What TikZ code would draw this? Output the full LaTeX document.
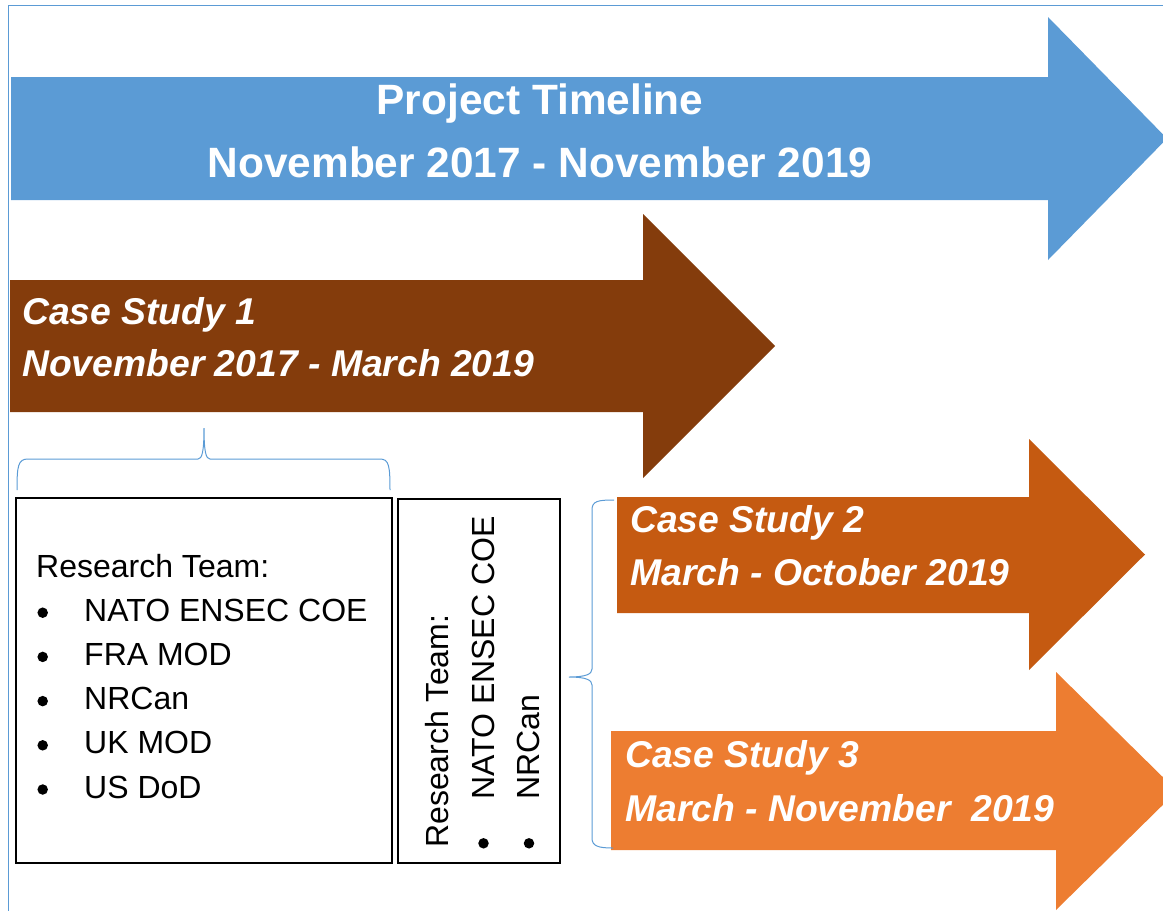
\documentclass[tikz,border=0pt]{standalone}
\usepackage{fontspec}
\setmainfont{Liberation Sans}
\definecolor{tlblue}{HTML}{5B9BD5}
\definecolor{csbrown}{HTML}{843C0C}
\definecolor{csdark}{HTML}{C55A11}
\definecolor{csorange}{HTML}{ED7D31}

\begin{document}
\begin{tikzpicture}[x=1pt, y=-1pt,
    title/.style={text=white, inner sep=0, anchor=base, font=\fontsize{42.4}{50}\selectfont\bfseries},
    casetext/.style={text=white, inner sep=0, anchor=base west, font=\fontsize{37.3}{44}\selectfont\bfseries\itshape},
    teambox/.style={draw=black, line width=2pt, anchor=north west, inner sep=0},
    teamtext/.style={inner sep=0, anchor=base west, font=\fontsize{32}{38}\selectfont},
    teamdot/.style={circle, fill=black, inner sep=0, minimum size=10.5},
    brace/.style={draw=tlblue, line width=1pt}]
        \useasboundingbox (0,0) rectangle (1163,911);
        \draw[tlblue, line width=1.2pt] (1163,5.5) -- (8.5,5.5) -- (8.5,911);

        \fill[tlblue] (11,77) -- (1048,77) -- (1048,17) -- (1167,138.5) -- (1048,260) -- (1048,200) -- (11,200) -- cycle;
        \fill[csbrown] (10,280) -- (643,280) -- (643,214) -- (775,346) -- (643,478) -- (643,412) -- (10,412) -- cycle;
        \fill[csdark] (617,497) -- (1029,497) -- (1029,439) -- (1145,554.5) -- (1029,670) -- (1029,613) -- (617,613) -- cycle;
        \fill[csorange] (611,731) -- (1056,731) -- (1056,672) -- (1177,791) -- (1056,910) -- (1056,850) -- (611,850) -- cycle;

        \node[title] (ptitle) at (540,114) {Project Timeline};
        \node[title] (pdates) at (540,177) {November 2017 - November 2019};
        \node[casetext] (cs1) at (22,324) {Case Study 1};
        \node[casetext] (cs1dates) at (22,376) {November 2017 - March 2019};
        \node[casetext] (cs2) at (630,532) {Case Study 2};
        \node[casetext] (cs2dates) at (630,585) {March - October 2019};
        \node[casetext] (cs3) at (625,767) {Case Study 3};
        \node[casetext] (cs3dates) at (625,821) {March - November~~2019};

        \node[teambox, minimum width=375.5, minimum height=364.5] (team1) at (15,497) {};
        \node[teambox, minimum width=162, minimum height=363.5] (team2) at (397,498) {};

        \node[teamtext] (t1head) at (36,577) {Research Team:};
        \foreach \name [count=\i] in {NATO ENSEC COE, FRA MOD, NRCan, UK MOD, US DoD} {
            \node[teamdot] (t1dot\i) at (42.7,{577+44.2*\i-8.5}) {};
            \node[teamtext] (t1item\i) at (84,{577+44.2*\i}) {\name};
        }

        \node[teamtext, rotate=90] (t2head) at (448,848) {Research Team:};
        \node[teamdot] (t2dot1) at (483.5,843.3) {};
        \node[teamtext, rotate=90] (t2item1) at (494,800) {NATO ENSEC COE};
        \node[teamdot] (t2dot2) at (529,843.3) {};
        \node[teamtext, rotate=90] (t2item2) at (539.5,800) {NRCan};

        \draw[brace] (17,490) .. controls (17,466) and (18,459) .. (28,459) -- (198,459)
            .. controls (202,459) and (204,452) .. (204,428)
            .. controls (204,452) and (206,459) .. (210,459) -- (380,459)
            .. controls (389,459) and (390,466) .. (390,490);
        \draw[brace] (614,500) .. controls (598,500) and (592,501) .. (592,510) -- (592,669)
            .. controls (592,674) and (586,677) .. (569,677)
            .. controls (586,677) and (592,680) .. (592,685) -- (592,838)
            .. controls (592,846) and (598,848) .. (613,848);
\end{tikzpicture}
\end{document}
